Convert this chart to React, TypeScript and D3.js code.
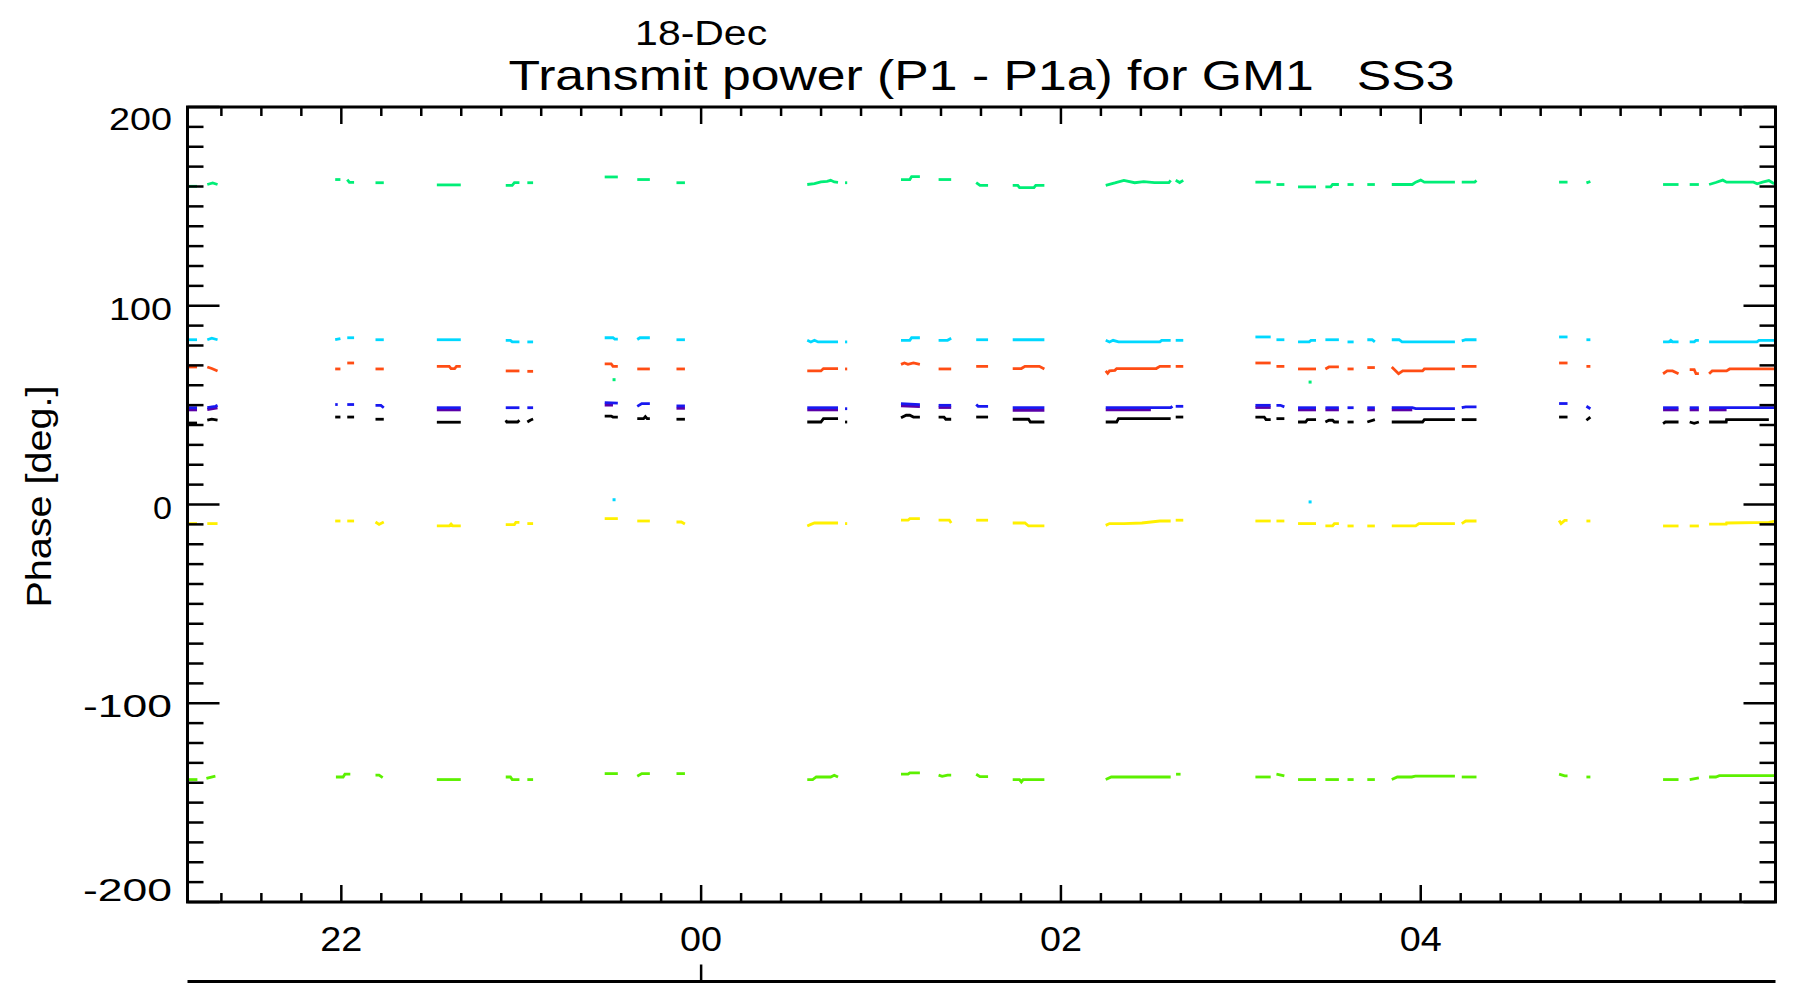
import React from "react";
import * as d3 from "d3";

// ---------- DATA (time in hours from 18-Dec 00:00, value in degrees) ----------
const title = "Transmit power (P1 - P1a) for GM1   SS3";
const dateLabel = "18-Dec";
const yTitle = "Phase [deg.]";
const timeDomain = [-2.855, 5.972];
const phaseDomain = [-200, 200];
const majorHourTicks = [-2, 0, 2, 4];
const majorPhaseTicks = [-200, -100, 0, 100, 200];

// each segment: flat list t0,v0,t1,v1,...
const upperGreen: number[][] = [
  [-2.855, 160.1, -2.802, 160.1], [-2.745, 161.0, -2.715, 161.8, -2.688, 161.0],
  [-2.034, 163.5, -2.005, 163.5], [-1.967, 163.5, -1.955, 162.1, -1.929, 162.1],
  [-1.81, 161.9, -1.764, 161.9], [-1.469, 160.8, -1.336, 160.8],
  [-1.086, 160.6, -1.05, 160.6, -1.038, 161.9, -1.01, 161.9], [-0.966, 161.9, -0.934, 161.9],
  [-0.536, 164.8, -0.463, 164.8], [-0.355, 163.5, -0.285, 163.5], [-0.137, 161.9, -0.09, 161.9],
  [0.59, 161.0, 0.63, 161.4, 0.666, 162.3, 0.7, 162.6, 0.72, 163.1, 0.74, 162.3, 0.761, 162.1], [0.8, 161.9, 0.812, 161.9],
  [1.111, 163.5, 1.16, 163.5, 1.17, 165.0, 1.216, 165.0], [1.32, 163.5, 1.39, 163.5],
  [1.529, 162.0, 1.55, 160.6, 1.595, 160.6],
  [1.732, 160.6, 1.76, 160.6, 1.77, 159.4, 1.85, 159.4, 1.86, 160.6, 1.908, 160.6],
  [2.249, 160.6, 2.3, 161.8, 2.35, 163.1, 2.41, 161.9, 2.46, 162.4, 2.52, 161.9, 2.6, 161.9, 2.61, 163.1],
  [2.638, 163.1, 2.66, 162.0, 2.68, 163.1],
  [3.081, 162.2, 3.166, 162.2], [3.198, 161.0, 3.242, 161.0], [3.318, 159.8, 3.418, 159.8],
  [3.47, 159.8, 3.5, 159.8, 3.51, 161.0, 3.545, 161.0], [3.593, 161.0, 3.627, 161.0], [3.703, 161.0, 3.745, 161.0],
  [3.839, 161.0, 3.953, 161.0, 3.972, 162.2, 4.0, 163.2, 4.02, 162.2, 4.19, 162.2], [4.228, 162.2, 4.3, 162.2, 4.31, 163.0],
  [4.769, 162.2, 4.816, 162.2], [4.921, 161.8, 4.943, 162.5],
  [5.347, 161.0, 5.433, 161.0], [5.495, 161.0, 5.546, 161.0],
  [5.603, 161.0, 5.64, 162.0, 5.679, 163.2, 5.7, 162.2, 5.85, 162.2, 5.87, 161.4, 5.9, 162.2, 5.935, 163.0, 5.965, 161.4],
];

const cyan: number[][] = [
  [-2.855, 82.9, -2.802, 82.9], [-2.745, 82.9, -2.72, 83.7, -2.688, 82.9],
  [-2.034, 83.0, -2.005, 83.5], [-1.967, 83.9, -1.929, 83.9], [-1.81, 82.9, -1.764, 82.9],
  [-1.469, 82.9, -1.336, 82.9],
  [-1.086, 82.6, -1.06, 82.6, -1.05, 81.8, -1.01, 81.8], [-0.966, 81.8, -0.934, 81.8],
  [-0.536, 83.9, -0.49, 83.9, -0.48, 83.2, -0.463, 83.2], [-0.355, 83.0, -0.34, 83.9, -0.285, 83.9], [-0.137, 82.9, -0.09, 82.9],
  [0.59, 82.6, 0.61, 81.8, 0.63, 82.6, 0.65, 81.8, 0.761, 81.8], [0.8, 81.8, 0.812, 81.8],
  [1.111, 82.6, 1.16, 82.6, 1.17, 83.9, 1.216, 83.9], [1.32, 82.6, 1.37, 82.6, 1.39, 83.6],
  [1.529, 82.9, 1.595, 82.9], [1.732, 82.9, 1.908, 82.9],
  [2.249, 82.6, 2.27, 81.8, 2.29, 82.6, 2.32, 81.8, 2.55, 81.8, 2.56, 82.6, 2.61, 82.6], [2.638, 82.6, 2.68, 82.6],
  [3.081, 84.3, 3.166, 84.3], [3.198, 82.9, 3.242, 82.9], [3.318, 81.8, 3.38, 81.8, 3.39, 82.6, 3.418, 82.6],
  [3.47, 82.9, 3.545, 82.9], [3.593, 81.8, 3.627, 81.8], [3.703, 82.9, 3.73, 82.9, 3.745, 81.8],
  [3.839, 82.9, 3.88, 82.9, 3.896, 81.8, 4.19, 81.8], [4.228, 82.3, 4.25, 82.9, 4.31, 82.9],
  [4.769, 84.3, 4.816, 84.3], [4.921, 82.9, 4.943, 82.9],
  [5.347, 81.8, 5.38, 81.8, 5.39, 82.6, 5.4, 81.8, 5.433, 81.8], [5.495, 81.8, 5.52, 81.8, 5.53, 82.6, 5.546, 82.6],
  [5.603, 81.8, 5.869, 81.8, 5.88, 82.6, 5.972, 82.6],
];

const orange: number[][] = [
  [-2.855, 69.2, -2.802, 69.2], [-2.745, 69.2, -2.72, 68.4, -2.688, 67.2],
  [-2.034, 68.2, -2.005, 68.2], [-1.967, 71.2, -1.929, 71.2], [-1.81, 68.2, -1.764, 68.2],
  [-1.469, 69.5, -1.4, 69.5, -1.39, 68.4, -1.37, 68.4, -1.36, 69.5, -1.336, 69.5],
  [-1.086, 67.2, -1.01, 67.2], [-0.966, 67.0, -0.934, 67.0],
  [-0.536, 70.8, -0.5, 70.8, -0.49, 69.5, -0.463, 69.5], [-0.355, 68.2, -0.285, 68.2], [-0.137, 68.2, -0.09, 68.2],
  [0.59, 67.2, 0.666, 67.2, 0.68, 68.4, 0.761, 68.4], [0.8, 68.2, 0.812, 68.2],
  [1.111, 70.5, 1.13, 71.2, 1.15, 70.5, 1.18, 71.2, 1.216, 70.5], [1.32, 68.2, 1.39, 68.2], [1.529, 69.5, 1.595, 69.5],
  [1.732, 68.4, 1.78, 68.4, 1.8, 69.5, 1.88, 69.5, 1.908, 68.2],
  [2.249, 67.2, 2.26, 66.0, 2.27, 67.2, 2.3, 67.5, 2.31, 68.4, 2.53, 68.4, 2.55, 69.5, 2.61, 69.5], [2.638, 69.5, 2.68, 69.5],
  [3.081, 71.2, 3.166, 71.2], [3.198, 69.5, 3.242, 69.5], [3.318, 68.2, 3.418, 68.2],
  [3.47, 68.2, 3.49, 69.2, 3.545, 69.2], [3.593, 68.2, 3.627, 68.2], [3.703, 68.9, 3.745, 68.9],
  [3.839, 69.2, 3.877, 65.8, 3.9, 67.2, 4.01, 67.2, 4.02, 68.2, 4.19, 68.2], [4.228, 69.5, 4.31, 69.5],
  [4.769, 71.2, 4.816, 71.2], [4.921, 69.5, 4.943, 69.5],
  [5.347, 65.8, 5.37, 67.2, 5.4, 67.2, 5.433, 65.8], [5.495, 67.9, 5.52, 67.9, 5.53, 65.8, 5.546, 65.8],
  [5.603, 65.8, 5.62, 67.2, 5.7, 67.2, 5.717, 68.2, 5.972, 68.2],
];

const purple: number[][] = [
  [-2.855, 47.6, -2.802, 47.6], [-2.745, 47.8, -2.688, 48.6],
  [-1.469, 47.6, -1.336, 47.6], [-0.536, 50.0, -0.49, 50.0], [-0.137, 48.4, -0.09, 48.4],
  [0.59, 47.6, 0.761, 47.6], [1.111, 49.6, 1.216, 49.2], [1.32, 48.8, 1.39, 48.8],
  [1.732, 47.4, 1.908, 47.4], [2.249, 47.6, 2.5, 47.6],
  [3.081, 48.8, 3.166, 48.8], [3.318, 47.6, 3.418, 47.6], [3.47, 47.6, 3.545, 47.6],
  [3.703, 47.6, 3.745, 47.6], [3.839, 47.6, 3.953, 47.6],
  [5.347, 47.6, 5.433, 47.6], [5.495, 47.6, 5.546, 47.6], [5.603, 47.6, 5.7, 47.6],
];

const blue: number[][] = [
  [-2.855, 48.7, -2.802, 48.7], [-2.745, 48.7, -2.7, 49.4, -2.688, 49.9],
  [-2.034, 50.3, -2.02, 50.3], [-1.967, 50.3, -1.929, 50.3], [-1.81, 49.9, -1.78, 49.9, -1.764, 48.7],
  [-1.469, 48.7, -1.336, 48.7], [-1.086, 48.7, -1.01, 48.7], [-0.966, 48.7, -0.934, 48.7],
  [-0.536, 51.3, -0.463, 51.0], [-0.355, 49.4, -0.33, 50.8, -0.285, 50.8], [-0.137, 49.6, -0.09, 49.6],
  [0.59, 48.7, 0.761, 48.7], [0.8, 48.2, 0.812, 48.2],
  [1.111, 50.8, 1.216, 50.3], [1.32, 49.9, 1.39, 49.9], [1.529, 50.3, 1.54, 49.4, 1.595, 49.4],
  [1.732, 48.7, 1.908, 48.7], [2.249, 48.7, 2.61, 48.7, 2.62, 49.4], [2.638, 49.4, 2.68, 49.4],
  [3.081, 49.9, 3.166, 49.9], [3.198, 49.9, 3.22, 49.9, 3.242, 49.1], [3.318, 48.7, 3.418, 48.7],
  [3.47, 48.7, 3.545, 48.7], [3.593, 48.7, 3.627, 48.7], [3.703, 48.7, 3.745, 48.7],
  [3.839, 48.7, 3.953, 48.7, 3.972, 48.2, 4.19, 48.2], [4.228, 48.7, 4.25, 49.1, 4.31, 49.1],
  [4.769, 50.8, 4.816, 50.8], [4.921, 49.4, 4.943, 48.2],
  [5.347, 48.7, 5.433, 48.7], [5.495, 48.7, 5.546, 48.7], [5.603, 48.7, 5.972, 48.7],
];

const black: number[][] = [
  [-2.855, 41.0, -2.802, 41.0], [-2.745, 42.4, -2.72, 42.9, -2.688, 42.4],
  [-2.034, 44.0, -2.005, 44.0], [-1.967, 44.0, -1.929, 44.0], [-1.81, 42.9, -1.764, 42.9],
  [-1.469, 41.4, -1.336, 41.4],
  [-1.086, 42.4, -1.08, 41.5, -1.02, 41.5, -1.01, 42.4], [-0.966, 41.5, -0.95, 42.4, -0.934, 43.0],
  [-0.536, 44.5, -0.5, 44.5, -0.49, 44.0, -0.463, 44.0], [-0.355, 43.2, -0.32, 43.2, -0.31, 44.2, -0.3, 43.2, -0.285, 43.2],
  [-0.137, 42.9, -0.09, 42.9],
  [0.59, 41.5, 0.666, 41.5, 0.68, 43.2, 0.761, 43.2], [0.8, 41.5, 0.812, 41.5],
  [1.111, 43.6, 1.14, 44.9, 1.16, 44.9, 1.18, 44.0, 1.216, 44.0], [1.32, 44.0, 1.35, 44.0, 1.36, 42.9, 1.39, 42.9],
  [1.529, 44.0, 1.595, 44.0], [1.732, 42.9, 1.82, 42.9, 1.83, 41.5, 1.908, 41.5],
  [2.249, 41.5, 2.31, 41.5, 2.32, 43.2, 2.61, 43.2], [2.638, 44.0, 2.68, 44.0],
  [3.081, 44.0, 3.13, 44.0, 3.14, 42.7, 3.166, 42.7], [3.198, 43.2, 3.242, 43.2],
  [3.318, 41.5, 3.36, 41.5, 3.37, 42.7, 3.418, 42.7], [3.47, 41.5, 3.49, 42.4, 3.51, 42.4, 3.52, 41.5, 3.545, 41.5],
  [3.593, 41.5, 3.627, 41.5], [3.703, 41.5, 3.745, 42.7],
  [3.839, 41.5, 4.01, 41.5, 4.02, 42.7, 4.19, 42.7], [4.228, 42.7, 4.31, 42.7],
  [4.769, 44.0, 4.816, 44.0], [4.921, 42.4, 4.943, 44.0],
  [5.347, 40.7, 5.36, 41.5, 5.433, 41.5], [5.495, 41.5, 5.52, 40.8, 5.546, 41.5],
  [5.603, 41.5, 5.698, 41.5, 5.7, 42.7, 5.935, 42.7],
];

const yellow: number[][] = [
  [-2.855, -9.6, -2.802, -9.6], [-2.745, -9.6, -2.688, -9.6],
  [-2.034, -8.3, -2.005, -8.3], [-1.967, -8.3, -1.929, -8.3], [-1.81, -8.8, -1.79, -10.0, -1.764, -8.8],
  [-1.469, -10.8, -1.4, -10.8, -1.39, -9.8, -1.38, -10.8, -1.336, -10.8],
  [-1.086, -10.1, -1.038, -10.1, -1.03, -9.0, -1.01, -9.0], [-0.966, -9.6, -0.934, -9.6],
  [-0.536, -7.1, -0.463, -7.1], [-0.355, -8.3, -0.285, -8.3], [-0.137, -8.8, -0.11, -8.8, -0.09, -9.8],
  [0.59, -10.8, 0.61, -10.0, 0.63, -9.3, 0.761, -9.3], [0.8, -9.6, 0.812, -9.6],
  [1.111, -7.9, 1.15, -7.9, 1.16, -7.1, 1.216, -7.1], [1.32, -7.9, 1.38, -7.9, 1.39, -9.3],
  [1.529, -7.9, 1.595, -7.9], [1.732, -9.3, 1.8, -9.3, 1.82, -10.8, 1.908, -10.8],
  [2.249, -10.5, 2.27, -9.6, 2.35, -9.6, 2.45, -9.3, 2.5, -8.8, 2.55, -8.3, 2.61, -8.3], [2.638, -7.9, 2.68, -7.9],
  [3.081, -8.3, 3.166, -8.3], [3.198, -8.3, 3.242, -8.3], [3.318, -9.6, 3.418, -9.6],
  [3.47, -10.8, 3.51, -10.8, 3.52, -9.6, 3.545, -9.6], [3.593, -10.8, 3.627, -10.8], [3.703, -10.8, 3.745, -10.8],
  [3.839, -10.8, 3.972, -10.8, 3.99, -9.6, 4.19, -9.6], [4.228, -9.6, 4.25, -8.3, 4.31, -8.3],
  [4.769, -8.0, 4.78, -9.6, 4.8, -8.0, 4.816, -8.0], [4.921, -8.3, 4.943, -8.3],
  [5.347, -10.8, 5.433, -10.8], [5.495, -10.8, 5.546, -10.8],
  [5.603, -9.9, 5.698, -9.9, 5.7, -9.3, 5.935, -9.0, 5.972, -8.3],
];

const lowerGreen: number[][] = [
  [-2.855, -138.4, -2.8, -138.4], [-2.75, -137.8, -2.7, -136.7],
  [-2.03, -137.1, -1.99, -137.1, -1.98, -135.7, -1.95, -135.7], [-1.81, -136.2, -1.79, -136.2, -1.77, -137.4],
  [-1.469, -138.4, -1.336, -138.4],
  [-1.086, -137.1, -1.06, -137.1, -1.05, -138.4, -1.01, -138.4], [-0.966, -138.4, -0.934, -138.4],
  [-0.536, -135.4, -0.463, -135.4], [-0.355, -136.7, -0.33, -135.4, -0.285, -135.4], [-0.137, -135.4, -0.09, -135.4],
  [0.59, -138.4, 0.62, -138.4, 0.64, -137.1, 0.72, -137.1, 0.74, -136.2, 0.761, -137.1],
  [1.111, -135.7, 1.15, -135.7, 1.16, -135.0, 1.216, -135.0], [1.32, -136.2, 1.34, -136.8, 1.37, -136.2, 1.39, -136.2],
  [1.529, -135.7, 1.55, -136.9, 1.595, -136.9],
  [1.732, -138.4, 1.77, -138.4, 1.78, -139.6, 1.79, -138.4, 1.908, -138.4],
  [2.249, -138.4, 2.28, -137.1, 2.61, -137.1], [2.64, -135.7, 2.665, -135.7],
  [3.081, -137.1, 3.166, -137.1], [3.198, -135.7, 3.242, -136.5], [3.318, -138.4, 3.418, -138.4],
  [3.47, -138.4, 3.545, -138.4], [3.593, -138.4, 3.627, -138.4], [3.703, -138.4, 3.745, -138.4],
  [3.839, -138.4, 3.87, -137.1, 3.95, -137.1, 3.97, -136.7, 4.19, -136.7], [4.228, -137.1, 4.31, -137.1],
  [4.769, -135.7, 4.8, -136.5, 4.816, -136.5], [4.921, -137.1, 4.943, -137.1],
  [5.347, -138.4, 5.433, -138.4], [5.495, -138.4, 5.546, -137.6],
  [5.603, -137.1, 5.64, -137.1, 5.66, -136.4, 5.972, -136.4],
];

// isolated samples
const greenDots: number[][] = [[-0.484, 62.8], [3.385, 61.6]];
const cyanDots: number[][] = [[-0.484, 2.4], [3.385, 1.3]];

const seriesList = [
  { name: "upperGreen", color: "#00ee77", segs: upperGreen },
  { name: "lowerGreen", color: "#5cf000", segs: lowerGreen },
  { name: "cyan", color: "#00d8ff", segs: cyan },
  { name: "orange", color: "#ff4d14", segs: orange },
  { name: "purple", color: "#5a00a8", segs: purple },
  { name: "blue", color: "#1818f0", segs: blue },
  { name: "black", color: "#000000", segs: black },
  { name: "yellow", color: "#fff000", segs: yellow },
];

// ---------- LAYOUT ----------
const W = 1796, H = 990;
const X0 = 187.5, X1 = 1775.5, Y0 = 107, Y1 = 902;
const FONT = "'Liberation Sans Narrow', 'Liberation Sans', Arial, sans-serif";

function pairs(flat: number[]): [number, number][] {
  const out: [number, number][] = [];
  for (let i = 0; i < flat.length; i += 2) out.push([flat[i], flat[i + 1]]);
  return out;
}

function hourLabel(h: number) {
  const v = ((Math.round(h) % 24) + 24) % 24;
  return String(v).padStart(2, "0");
}

export default function App() {
  const x = d3.scaleLinear().domain(timeDomain).range([X0, X1]);
  const y = d3.scaleLinear().domain(phaseDomain).range([Y1, Y0]);
  const line = d3.line<[number, number]>().x((d) => x(d[0])).y((d) => y(d[1]));

  const step = 2 / 9;
  const minorX = d3.range(-20, 60).map((k) => -2 + k * step)
    .filter((v, i) => v >= timeDomain[0] && v <= timeDomain[1])
    .filter((v) => !majorHourTicks.some((m) => Math.abs(m - v) < 1e-6));
  const minorY = d3.range(-200, 201, 10).filter((v) => v % 100 !== 0);

  const axisW = 3;
  const yMaj = 32, yMin = 16, xMaj = 17, xMin = 9;

  return (
    <svg width={W} height={H} style={{ position: "absolute", left: 0, top: 0, background: "#fff" }}
      fontFamily={FONT}>
      <rect x={0} y={0} width={W} height={H} fill="#fff" />
      {/* data */}
      <g fill="none" strokeWidth={2.8} strokeLinejoin="miter" strokeLinecap="butt">
        {seriesList.map((s) => (
          <g key={s.name} stroke={s.color}>
            {s.segs.map((seg, i) => <path key={i} d={line(pairs(seg)) || ""} />)}
          </g>
        ))}
      </g>
      {greenDots.map((d, i) => (
        <rect key={"g" + i} x={x(d[0]) - 1.5} y={y(d[1]) - 1.5} width={3} height={3} fill="#00ee77" />
      ))}
      {cyanDots.map((d, i) => (
        <rect key={"c" + i} x={x(d[0]) - 1.5} y={y(d[1]) - 1.5} width={3} height={3} fill="#00d8ff" />
      ))}

      {/* frame */}
      <rect x={X0} y={Y0} width={X1 - X0} height={Y1 - Y0} fill="none" stroke="#000" strokeWidth={axisW} />

      {/* x ticks bottom/top */}
      <g stroke="#000" strokeWidth={2.5}>
        {majorHourTicks.map((t) => (
          <g key={"mx" + t}>
            <line x1={x(t)} x2={x(t)} y1={Y1} y2={Y1 - xMaj} />
            <line x1={x(t)} x2={x(t)} y1={Y0} y2={Y0 + xMaj} />
          </g>
        ))}
        {minorX.map((t, i) => (
          <g key={"nx" + i}>
            <line x1={x(t)} x2={x(t)} y1={Y1} y2={Y1 - xMin} />
            <line x1={x(t)} x2={x(t)} y1={Y0} y2={Y0 + xMin} />
          </g>
        ))}
        {majorPhaseTicks.map((v) => (
          <g key={"my" + v}>
            <line x1={X0} x2={X0 + yMaj} y1={y(v)} y2={y(v)} />
            <line x1={X1} x2={X1 - yMaj} y1={y(v)} y2={y(v)} />
          </g>
        ))}
        {minorY.map((v) => (
          <g key={"ny" + v}>
            <line x1={X0} x2={X0 + yMin} y1={y(v)} y2={y(v)} />
            <line x1={X1} x2={X1 - yMin} y1={y(v)} y2={y(v)} />
          </g>
        ))}
      </g>

      {/* x labels */}
      {majorHourTicks.map((t) => (
        <text key={"lx" + t} x={x(t)} y={950.5} textAnchor="middle" fontSize={35}
          textLength={42} lengthAdjust="spacingAndGlyphs" fill="#000">{hourLabel(t)}</text>
      ))}
      {/* y labels */}
      {majorPhaseTicks.map((v) => {
        const s = String(v);
        const wlen = v === 0 ? 19 : (v < 0 ? 26 : 0) + 21 * String(Math.abs(v)).length;
        const yy = Math.max(Y0 + 23, Math.min(Y1 - 1, y(v) + 14));
        return (
          <text key={"ly" + v} x={172} y={yy} textAnchor="end" fontSize={32}
            textLength={wlen} lengthAdjust="spacingAndGlyphs" fill="#000">{s}</text>
        );
      })}

      {/* second (date) axis */}
      <line x1={X0} x2={X1} y1={981.5} y2={981.5} stroke="#000" strokeWidth={3} />
      <line x1={x(0)} x2={x(0)} y1={981.5} y2={964.5} stroke="#000" strokeWidth={2.5} />

      {/* titles */}
      <text x={x(0)} y={45} textAnchor="middle" fontSize={35} textLength={132}
        lengthAdjust="spacingAndGlyphs" fill="#000">{dateLabel}</text>
      <text x={(X0 + X1) / 2} y={90} textAnchor="middle" fontSize={43} textLength={946}
        lengthAdjust="spacingAndGlyphs" fill="#000" style={{ whiteSpace: "pre" }}>{title}</text>
      <text transform={`translate(51, ${(Y0 + Y1) / 2 - 8}) rotate(-90)`} textAnchor="middle" fontSize={35}
        textLength={222} lengthAdjust="spacingAndGlyphs" fill="#000">{yTitle}</text>
    </svg>
  );
}
